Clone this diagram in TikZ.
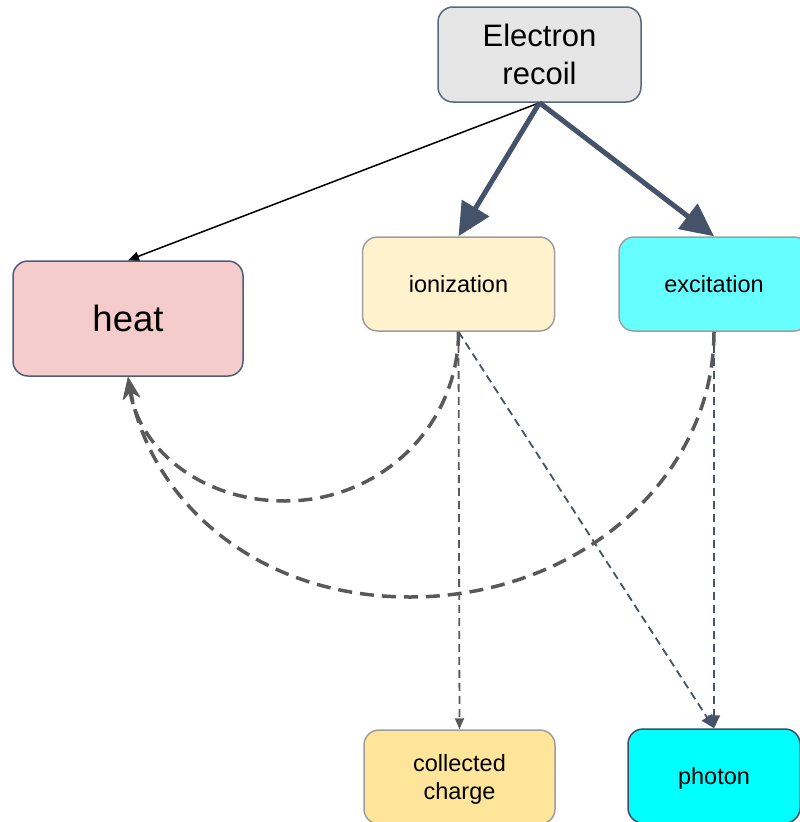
\documentclass[tikz,border=0pt]{standalone}
\usepackage{fontspec}
\setmainfont{Liberation Sans}
\usetikzlibrary{arrows.meta}
\definecolor{slate}{HTML}{44526A}
\definecolor{dashgray}{HTML}{595959}
\definecolor{recoilfill}{HTML}{E6E6E6}
\definecolor{recoilline}{HTML}{5A6782}
\definecolor{heatfill}{HTML}{F4CCCC}
\definecolor{heatline}{HTML}{4F5D78}
\definecolor{ionfill}{HTML}{FFF2CC}
\definecolor{excfill}{HTML}{66FFFF}
\definecolor{chargefill}{HTML}{FFE599}
\definecolor{photonfill}{HTML}{00FFFF}
\definecolor{photonline}{HTML}{3F4B61}
\definecolor{softline}{HTML}{9E9E9E}
\begin{document}
\begin{tikzpicture}[x=1pt,y=-1pt,
  box/.style={draw, line width=1.5pt, rounded corners=15pt, align=center, inner sep=0pt, text depth=0pt},
  bigtext/.style={font=\fontsize{31}{38}\selectfont},
  heattext/.style={font=\fontsize{36.5}{42}\selectfont},
  midtext/.style={font=\fontsize{23.5}{28}\selectfont},
  strongarrow/.style={draw=slate, line width=5pt, -{Triangle[length=33pt,width=31pt]}},
  plainarrow/.style={draw=black, line width=1.5pt, -{Triangle[length=11pt,width=9pt]}},
  grayflow/.style={draw=dashgray, line width=1.8pt, dash pattern=on 8pt off 5pt, -{Triangle[length=11pt,width=9pt]}},
  slateflow/.style={draw=slate, line width=1.8pt, dash pattern=on 8pt off 5pt, -{Triangle[length=13pt,width=12pt]}},
  loss/.style={draw=dashgray, line width=3.5pt, dash pattern=on 14pt off 8pt, -{Stealth[length=22pt,width=17pt,inset=7pt]}}
]
\useasboundingbox (0,0) rectangle (800,822);
\clip (0,0) rectangle (800,822);

% boxes
\node[box, bigtext, fill=recoilfill, draw=recoilline, minimum width=203pt, minimum height=95pt] (er) at (539.5,54.5) {Electron\\recoil};
\node[box, heattext, fill=heatfill, draw=heatline, minimum width=230pt, minimum height=115pt] (heat) at (128,318.5) {heat};
\node[box, midtext, fill=ionfill, draw=softline, minimum width=192pt, minimum height=94pt] (ion) at (458.5,284) {ionization};
\node[box, midtext, fill=excfill, draw=softline, minimum width=190pt, minimum height=94pt] (exc) at (714,284) {excitation};
\node[box, midtext, fill=chargefill, draw=softline, minimum width=191pt, minimum height=94pt] (cc) at (459.5,777) {collected\\charge};
\node[box, midtext, fill=photonfill, draw=photonline, minimum width=172pt, minimum height=94pt] (ph) at (714,776) {photon};

% lowest points of the two heat-loss arcs
\coordinate (ionlow) at (285,501);
\coordinate (exclow) at (410,597);

% primary branches
\draw[plainarrow] (er.south) -- (heat.north);
\draw[strongarrow] (er.south) -- (ion.north);
\draw[strongarrow] (er.south) -- (exc.north);

% secondary products
\draw[grayflow] (ion.south) -- (cc.north);
\draw[slateflow] (ion.south) -- (ph.north);
\draw[slateflow] (exc.south) -- (ph.north);

% energy returned as heat
\draw[loss] (ion.south) .. controls +(0,94) and +(96,0) .. (ionlow)
            .. controls +(-87,0) and +(10,69) .. (heat.south);
\draw[loss] (exc.south) .. controls +(0,147) and +(168,0) .. (exclow)
            .. controls +(-156,0) and +(22,122) .. (heat.south);
\end{tikzpicture}
\end{document}
